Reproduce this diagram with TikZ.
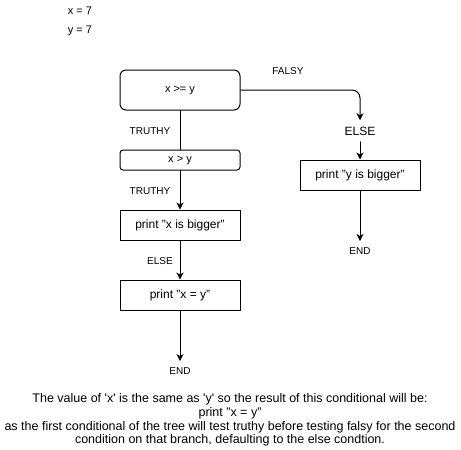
\documentclass[tikz,border=0pt]{standalone}
\usepackage{fontspec}
\setmainfont{Liberation Sans}
\usetikzlibrary{arrows.meta}

\begin{document}
\begin{tikzpicture}[line cap=round,line join=round,>={Stealth[length=7pt,width=7pt,inset=2pt]},x=1pt,y=-1pt,line width=1pt,
				box/.style={draw,minimum width=120pt,minimum height=30pt,inner sep=0pt,font=\fontsize{12}{14}\selectfont},
				cond/.style={box,rounded corners=6pt,font=\fontsize{11}{13}\selectfont},
				lbl/.style={inner sep=1pt,font=\fontsize{10}{12}\selectfont},
				endlbl/.style={lbl,inner ysep=6pt}]
				\useasboundingbox (0,0) rectangle (461,450);
				
				\node[lbl,font=\fontsize{11}{13}\selectfont] (xval) at (80,11) {x = 7};
				\node[lbl,font=\fontsize{11}{13}\selectfont] (yval) at (80,31) {y = 7};
				
				\node[cond,minimum height=40pt] (xgey) at (180,90) {x >= y};
				\node[cond,minimum height=20pt,rounded corners=3pt] (xgty) at (180,160) {x > y};
				\node[box] (xbig) at (180,225) {print "x is bigger"};
				\node[box] (xeqy) at (180,295) {print "x = y"};
				\node[endlbl] (endL) at (180,371) {END};
				
				\node[endlbl,font=\fontsize{12}{14}\selectfont] (elseR) at (360,131) {ELSE};
				\node[box] (ybig) at (360,175) {print "y is bigger"};
				\node[endlbl] (endR) at (360,251) {END};
				
				\draw (xgey.south) -- (xgty.north);
				\draw[->] (xgty.south) -- (xbig.north);
				\draw[->] (xbig.south) -- (xeqy.north);
				\draw[->] (xeqy.south) -- (endL.north);
				\draw[->,rounded corners=8pt] (xgey.east) -| (elseR.north);
				\draw[->] (elseR.south) -- (ybig.north);
				\draw[->] (ybig.south) -- (endR.north);
				
				\node[lbl] (truthyA) at (150,131) {TRUTHY};
				\node[lbl] (truthyB) at (150,191) {TRUTHY};
				\node[lbl] (elseL) at (160,261) {ELSE};
				\node[lbl] (falsy) at (288,71) {FALSY};
				
				\node[align=center,inner sep=0pt,font=\fontsize{12.5}{13.8}\selectfont] (note) at (230,420) {The value of \textquotesingle x\textquotesingle{} is the same as \textquotesingle y\textquotesingle{} so the result of this conditional will be:\\
				print "x = y"\\
				as the first conditional of the tree will test truthy before testing falsy for the second\\
				condition on that branch, defaulting to the else condtion.};
				\end{tikzpicture}
\end{document}
